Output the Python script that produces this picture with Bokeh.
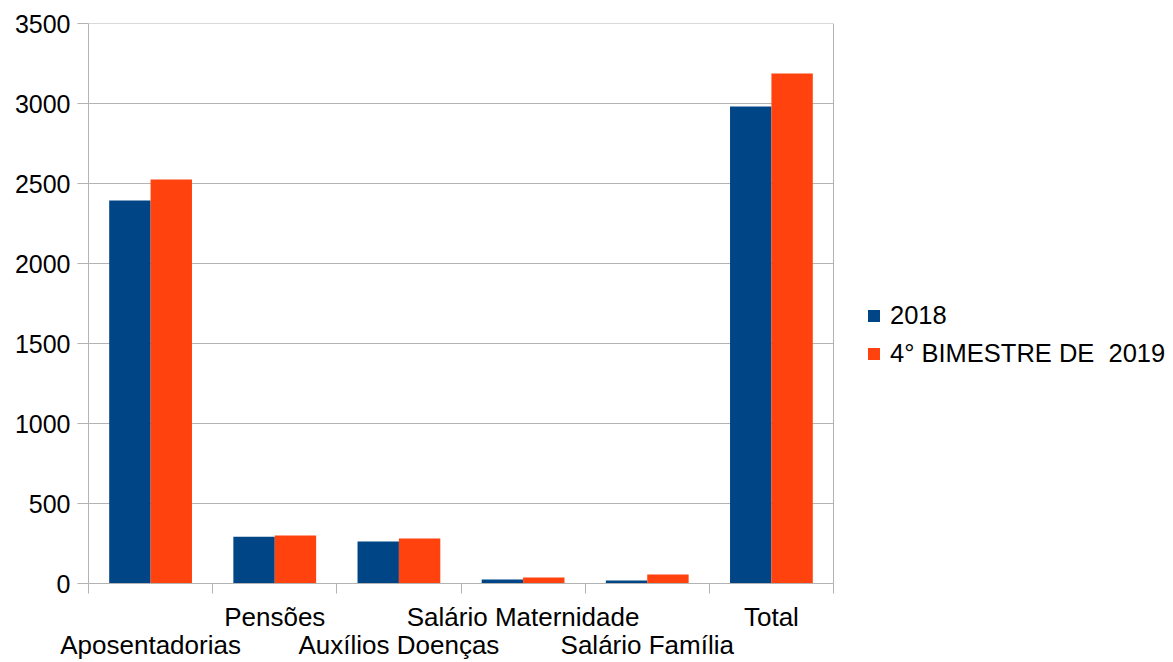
from bokeh.plotting import figure
from bokeh.models import (ColumnDataSource, Range1d, LinearAxis, FixedTicker,
                          SingleIntervalTicker, Legend, LegendItem)
from bokeh.transform import dodge
from bokeh.embed import file_html
from bokeh.resources import INLINE

categories = ["Aposentadorias", "Pensões", "Auxílios Doenças",
              "Salário Maternidade", "Salário Família", "Total"]
values_2018 = [2394, 292, 262, 25, 19, 2981]
values_2019 = [2525, 300, 281, 37, 56, 3188]
series_names = ["2018", "4° BIMESTRE DE  2019"]
y_ticks = [0, 500, 1000, 1500, 2000, 2500, 3000, 3500]
colors = ["#004586", "#ff420e"]

FONT = "Liberation Sans"
GRID = "#b3b3b3"

n = len(categories)
positions = [i + 0.5 for i in range(n)]
src = ColumnDataSource(dict(cat=categories, pos=positions, a=values_2018, b=values_2019))

# plot area of the chart is 745 px wide; the frame continues to the right to hold the legend
W, LEFT, PLOT_W = 1165, 88, 745
x_end = n * (W - LEFT) / PLOT_W

p = figure(width=W, height=662, x_range=Range1d(0, x_end),
           y_range=Range1d(y_ticks[0], y_ticks[-1]), output_backend="svg",
           toolbar_location=None, x_axis_location=None, min_border_left=LEFT,
           min_border_top=23, min_border_bottom=71, min_border_right=0)
p.outline_line_color = None
p.background_fill_color = "white"
p.border_fill_color = "white"
p.xgrid.grid_line_color = None
p.ygrid.grid_line_color = None

# grid lines and right border limited to the category area
p.segment(x0=[0] * len(y_ticks), x1=[n] * len(y_ticks), y0=y_ticks, y1=y_ticks,
          line_color=GRID, line_width=1)
p.segment(x0=[n], x1=[n], y0=[y_ticks[0]], y1=[y_ticks[-1]], line_color=GRID, line_width=1)

r1 = p.vbar(x=dodge("pos", -1/6), top="a", width=1/3, source=src,
            fill_color=colors[0], line_color=None)
r2 = p.vbar(x=dodge("pos", 1/6), top="b", width=1/3, source=src,
            fill_color=colors[1], line_color=None)

# y axis
ya = p.yaxis[0]
ya.ticker = SingleIntervalTicker(interval=500)
ya.axis_line_color = GRID
ya.major_tick_line_color = GRID
ya.major_tick_out = 11
ya.major_tick_in = 0
ya.minor_tick_line_color = None
ya.major_label_standoff = 7
ya.major_label_text_font = FONT
ya.major_label_text_font_size = "25px"
ya.major_label_text_color = "black"

# boundary ticks axis
tick_axis = LinearAxis(ticker=FixedTicker(ticks=list(range(n + 1))), bounds=(0, n),
                       axis_line_color=GRID, major_tick_line_color=GRID,
                       major_tick_out=10, major_tick_in=0, minor_tick_line_color=None,
                       major_label_text_font_size="0px", major_label_standoff=0,
                       major_label_overrides={i: "" for i in range(n + 1)})
p.add_layout(tick_axis, "below")

def label_axis(indices, standoff):
    ax = LinearAxis(ticker=FixedTicker(ticks=[positions[i] for i in indices]),
                    axis_line_color=None, major_tick_line_color=None,
                    major_tick_out=0, major_tick_in=0, minor_tick_line_color=None,
                    major_label_text_font=FONT, major_label_text_font_size="26px",
                    major_label_text_color="black", major_label_standoff=standoff,
                    major_label_overrides={positions[i]: categories[i] for i in indices})
    return ax

p.add_layout(label_axis([1, 3, 5], 8), "below")
p.add_layout(label_axis([0, 2, 4], -5), "below")

legend = Legend(items=[LegendItem(label=series_names[0], renderers=[r1]),
                       LegendItem(label=series_names[1], renderers=[r2])],
                location=(778, 215), glyph_width=15, glyph_height=15,
                label_standoff=9, spacing=9, padding=0, margin=0,
                label_text_font=FONT, label_text_font_size="25.5px",
                label_text_color="black", border_line_color=None,
                background_fill_alpha=0)
p.add_layout(legend, "center")

open("out.html", "w").write(file_html(p, INLINE))
